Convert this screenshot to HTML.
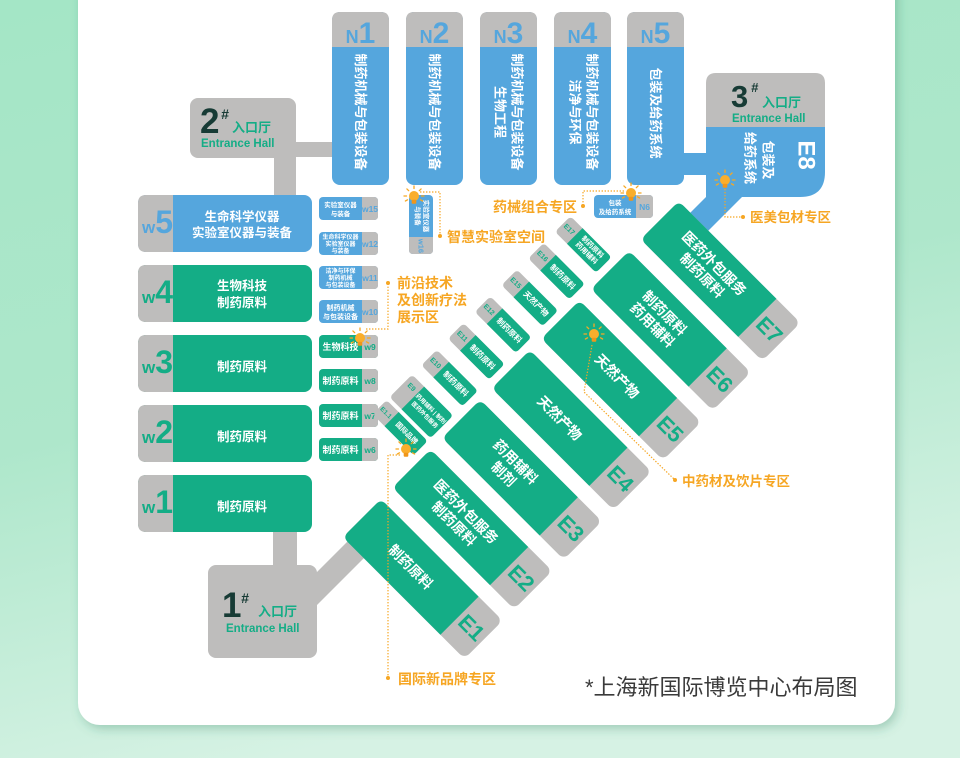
<!DOCTYPE html>
<html><head><meta charset="utf-8">
<style>
html,body{margin:0;padding:0;width:960px;height:758px;overflow:hidden;background:#b3e9d0;}
svg{display:block}
text{font-family:"Liberation Sans","Noto Sans CJK SC",sans-serif;font-weight:bold}
.w{fill:#fff}
.c{text-anchor:middle}
.m{dominant-baseline:central}
.o{fill:#f6a623}
.g{fill:#14ad86}
.b{fill:#55a6dd}
.d{fill:#173b35}
.lead{fill:none;stroke:#f6a623;stroke-width:1.2;stroke-dasharray:1.4 1.6}
</style></head><body>
<svg width="960" height="758" viewBox="0 0 960 758" xmlns="http://www.w3.org/2000/svg">
<defs>
<linearGradient id="bg" x1="0" y1="0" x2="0.3" y2="1">
 <stop offset="0" stop-color="#a4e6c6"/>
 <stop offset="0.55" stop-color="#aee7cb"/>
 <stop offset="1" stop-color="#d6f2e4"/>
</linearGradient>
<filter id="sh" x="-5%" y="-5%" width="110%" height="110%"><feDropShadow dx="3" dy="4" stdDeviation="5" flood-color="#2c7a5c" flood-opacity="0.3"/></filter>
<g id="bulb">
 <g stroke="#f7a823" stroke-width="1.3" stroke-linecap="round">
  <line x1="0" y1="-7.5" x2="0" y2="-10"/>
  <line x1="5.3" y1="-5.3" x2="7.1" y2="-7.1"/>
  <line x1="-5.3" y1="-5.3" x2="-7.1" y2="-7.1"/>
  <line x1="7.5" y1="0" x2="10" y2="0"/>
  <line x1="-7.5" y1="0" x2="-10" y2="0"/>
  <line x1="6.5" y1="3.8" x2="8.6" y2="5"/>
  <line x1="-6.5" y1="3.8" x2="-8.6" y2="5"/>
 </g>
 <circle cx="0" cy="0" r="5" fill="#f9ae2c"/>
 <rect x="-2.3" y="3.8" width="4.6" height="4" rx="1" fill="#f0961a"/>
</g>
</defs>
<rect width="960" height="758" fill="url(#bg)"/>
<rect x="78" y="-30" width="817" height="755" rx="22" fill="#fff" filter="url(#sh)"/>

<!-- 2# hall -->
<rect x="190" y="98" width="106" height="60" rx="8" fill="#bebdbc"/>
<rect x="290" y="142" width="46" height="15" fill="#bebdbc"/>
<rect x="274" y="150" width="22" height="48" fill="#bebdbc"/>
<text x="200" y="133" class="d" font-size="35">2</text>
<text x="221" y="119" class="d" font-size="14" font-style="italic">#</text>
<text x="232" y="132" class="g" font-size="13">入口厅</text>
<text x="201" y="147" class="g" font-size="11.5">Entrance Hall</text>

<!-- 1# hall -->
<rect x="273" y="525" width="24" height="45" fill="#bebdbc"/>
<polygon points="305,584 360,529 376,546 305,617" fill="#bebdbc"/>
<rect x="208" y="565" width="109" height="93" rx="8" fill="#bebdbc"/>
<text x="222" y="617" class="d" font-size="35">1</text>
<text x="241" y="603" class="d" font-size="14" font-style="italic">#</text>
<text x="258" y="616" class="g" font-size="13">入口厅</text>
<text x="226" y="632" class="g" font-size="11.5">Entrance Hall</text>

<!-- N blocks -->
<rect x="332" y="12" width="57" height="173" rx="8" fill="#55a6dd"/>
<rect x="406" y="12" width="57" height="173" rx="8" fill="#55a6dd"/>
<rect x="480" y="12" width="57" height="173" rx="8" fill="#55a6dd"/>
<rect x="554" y="12" width="57" height="173" rx="8" fill="#55a6dd"/>
<rect x="627" y="12" width="57" height="173" rx="8" fill="#55a6dd"/>
<g fill="#bebdbc">
<path d="M332,47 V20 Q332,12 340,12 H381 Q389,12 389,20 V47 Z"/>
<path d="M406,47 V20 Q406,12 414,12 H455 Q463,12 463,20 V47 Z"/>
<path d="M480,47 V20 Q480,12 488,12 H529 Q537,12 537,20 V47 Z"/>
<path d="M554,47 V20 Q554,12 562,12 H603 Q611,12 611,20 V47 Z"/>
<path d="M627,47 V20 Q627,12 635,12 H676 Q684,12 684,20 V47 Z"/>
</g>
<text x="360.5" y="43" class="b c"><tspan font-size="18">N</tspan><tspan font-size="30">1</tspan></text>
<text x="434.5" y="43" class="b c"><tspan font-size="18">N</tspan><tspan font-size="30">2</tspan></text>
<text x="508.5" y="43" class="b c"><tspan font-size="18">N</tspan><tspan font-size="30">3</tspan></text>
<text x="582.5" y="43" class="b c"><tspan font-size="18">N</tspan><tspan font-size="30">4</tspan></text>
<text x="655.5" y="43" class="b c"><tspan font-size="18">N</tspan><tspan font-size="30">5</tspan></text>
<g class="w" font-size="13">
<text transform="translate(360.5,112) rotate(90)" class="w c m">制药机械与包装设备</text>
<text transform="translate(434.5,112) rotate(90)" class="w c m">制药机械与包装设备</text>
<text transform="translate(517,112) rotate(90)" class="w c m">制药机械与包装设备</text>
<text transform="translate(500,112) rotate(90)" class="w c m">生物工程</text>
<text transform="translate(592,112) rotate(90)" class="w c m">制药机械与包装设备</text>
<text transform="translate(575,112) rotate(90)" class="w c m">洁净与环保</text>
<text transform="translate(655.5,113) rotate(90)" class="w c m">包装及给药系统</text>
</g>

<!-- 3# hall + E8 -->
<rect x="682" y="153" width="26" height="22" fill="#55a6dd"/>
<path d="M706,127 H825 V172 Q825,197 800,197 H742 L700,239 L676,227 L706,197 Z" fill="#55a6dd"/>
<path d="M706,127 V83 Q706,73 716,73 H815 Q825,73 825,83 V127 Z" fill="#bebdbc"/>
<text x="731" y="107" class="d" font-size="31">3</text>
<text x="751" y="92" class="d" font-size="13" font-style="italic">#</text>
<text x="762" y="107" class="g" font-size="13">入口厅</text>
<text x="732" y="122" class="g" font-size="11.5">Entrance Hall</text>
<text transform="translate(768,160) rotate(90)" class="w c m" font-size="13">包装及</text>
<text transform="translate(750,158) rotate(90)" class="w c m" font-size="13">给药系统</text>
<text transform="translate(806,155) rotate(90)" class="w c m" font-size="24">E8</text>

<!-- W blocks -->
<rect x="138" y="195" width="174" height="57" rx="8" fill="#55a6dd"/>
<rect x="138" y="265" width="174" height="57" rx="8" fill="#14ad86"/>
<rect x="138" y="335" width="174" height="57" rx="8" fill="#14ad86"/>
<rect x="138" y="405" width="174" height="57" rx="8" fill="#14ad86"/>
<rect x="138" y="475" width="174" height="57" rx="8" fill="#14ad86"/>
<g fill="#bebdbc">
<path d="M173,195 H146 Q138,195 138,203 V244 Q138,252 146,252 H173 Z"/>
<path d="M173,265 H146 Q138,265 138,273 V314 Q138,322 146,322 H173 Z"/>
<path d="M173,335 H146 Q138,335 138,343 V384 Q138,392 146,392 H173 Z"/>
<path d="M173,405 H146 Q138,405 138,413 V454 Q138,462 146,462 H173 Z"/>
<path d="M173,475 H146 Q138,475 138,483 V524 Q138,532 146,532 H173 Z"/>
</g>
<text x="142" y="233" class="b"><tspan font-size="17">w</tspan><tspan font-size="32">5</tspan></text>
<text x="142" y="303" class="g"><tspan font-size="17">w</tspan><tspan font-size="32">4</tspan></text>
<text x="142" y="373" class="g"><tspan font-size="17">w</tspan><tspan font-size="32">3</tspan></text>
<text x="142" y="443" class="g"><tspan font-size="17">w</tspan><tspan font-size="32">2</tspan></text>
<text x="142" y="513" class="g"><tspan font-size="17">w</tspan><tspan font-size="32">1</tspan></text>
<g class="w" font-size="12.5">
<text x="242" y="221" class="w c">生命科学仪器</text>
<text x="242" y="237" class="w c">实验室仪器与装备</text>
<text x="242" y="290" class="w c">生物科技</text>
<text x="242" y="307" class="w c">制药原料</text>
<text x="242" y="371" class="w c">制药原料</text>
<text x="242" y="441" class="w c">制药原料</text>
<text x="242" y="511" class="w c">制药原料</text>
</g>

<!-- small W boxes -->
<rect x="319" y="197" width="59" height="23" rx="4" fill="#55a6dd"/>
<rect x="319" y="232" width="59" height="23" rx="4" fill="#55a6dd"/>
<rect x="319" y="266" width="59" height="23" rx="4" fill="#55a6dd"/>
<rect x="319" y="300" width="59" height="23" rx="4" fill="#55a6dd"/>
<rect x="319" y="335" width="59" height="23" rx="4" fill="#14ad86"/>
<rect x="319" y="369" width="59" height="23" rx="4" fill="#14ad86"/>
<rect x="319" y="404" width="59" height="23" rx="4" fill="#14ad86"/>
<rect x="319" y="438" width="59" height="23" rx="4" fill="#14ad86"/>
<g fill="#bebdbc">
<path d="M362,197 H374 Q378,197 378,201 V216 Q378,220 374,220 H362 Z"/>
<path d="M362,232 H374 Q378,232 378,236 V251 Q378,255 374,255 H362 Z"/>
<path d="M362,266 H374 Q378,266 378,270 V285 Q378,289 374,289 H362 Z"/>
<path d="M362,300 H374 Q378,300 378,304 V319 Q378,323 374,323 H362 Z"/>
<path d="M362,335 H374 Q378,335 378,339 V354 Q378,358 374,358 H362 Z"/>
<path d="M362,369 H374 Q378,369 378,373 V388 Q378,392 374,392 H362 Z"/>
<path d="M362,404 H374 Q378,404 378,408 V423 Q378,427 374,427 H362 Z"/>
<path d="M362,438 H374 Q378,438 378,442 V457 Q378,461 374,461 H362 Z"/>
</g>
<g font-size="8.5">
<text x="370" y="212" class="b c">w15</text>
<text x="370" y="247" class="b c">w12</text>
<text x="370" y="281" class="b c">w11</text>
<text x="370" y="315" class="b c">w10</text>
<text x="370" y="350" class="g c">w9</text>
<text x="370" y="384" class="g c">w8</text>
<text x="370" y="419" class="g c">w7</text>
<text x="370" y="453" class="g c">w6</text>
</g>
<g class="w">
<text x="340.5" y="207" class="w c" font-size="6.5">实验室仪器</text>
<text x="340.5" y="216" class="w c" font-size="6.5">与装备</text>
<text x="340.5" y="239" class="w c" font-size="6">生命科学仪器</text>
<text x="340.5" y="246" class="w c" font-size="6">实验室仪器</text>
<text x="340.5" y="253" class="w c" font-size="6">与装备</text>
<text x="340.5" y="273" class="w c" font-size="6">洁净与环保</text>
<text x="340.5" y="280" class="w c" font-size="6">制药机械</text>
<text x="340.5" y="287" class="w c" font-size="6">与包装设备</text>
<text x="340.5" y="310" class="w c" font-size="7">制药机械</text>
<text x="340.5" y="319" class="w c" font-size="7">与包装设备</text>
<text x="340.5" y="350" class="w c" font-size="9">生物科技</text>
<text x="340.5" y="384" class="w c" font-size="9">制药原料</text>
<text x="340.5" y="419" class="w c" font-size="9">制药原料</text>
<text x="340.5" y="453" class="w c" font-size="9">制药原料</text>
</g>

<!-- W16 vertical -->
<rect x="409" y="195" width="24" height="59" rx="4" fill="#55a6dd"/>
<path d="M409,237 H433 V250 Q433,254 429,254 H413 Q409,254 409,250 Z" fill="#bebdbc"/>
<text transform="translate(425.5,216) rotate(90)" class="w c m" font-size="6.5">实验室仪器</text>
<text transform="translate(417,216) rotate(90)" class="w c m" font-size="6.5">与装备</text>
<text transform="translate(421,246) rotate(90)" class="b c m" font-size="7.5">w16</text>

<!-- N6 -->
<rect x="594" y="195" width="59" height="23" rx="4" fill="#55a6dd"/>
<path d="M636,195 H649 Q653,195 653,199 V214 Q653,218 649,218 H636 Z" fill="#bebdbc"/>
<text x="615" y="205" class="w c" font-size="6.5">包装</text>
<text x="615" y="214" class="w c" font-size="6.5">及给药系统</text>
<text x="644.5" y="210" class="b c" font-size="8.5">N6</text>

<!-- E blocks (rotated) -->
<g transform="translate(381,499) rotate(45)">
 <g>
  <rect x="0" y="0" width="172" height="54" rx="7" fill="#bebdbc"/>
  <path d="M138,0 H7 Q0,0 0,7 V47 Q0,54 7,54 H138 Z" fill="#14ad86"/>
  <text x="69" y="27" class="w c m" font-size="14">制药原料</text>
  <text x="155" y="27" class="g c m" font-size="22">E1</text>
 </g>
 <g transform="translate(0,-70.2)">
  <rect x="0" y="0" width="172" height="54" rx="7" fill="#bebdbc"/>
  <path d="M138,0 H7 Q0,0 0,7 V47 Q0,54 7,54 H138 Z" fill="#14ad86"/>
  <text x="69" y="19" class="w c m" font-size="14">医药外包服务</text>
  <text x="69" y="36" class="w c m" font-size="14">制药原料</text>
  <text x="155" y="27" class="g c m" font-size="22">E2</text>
 </g>
 <g transform="translate(0,-140.4)">
  <rect x="0" y="0" width="172" height="54" rx="7" fill="#bebdbc"/>
  <path d="M138,0 H7 Q0,0 0,7 V47 Q0,54 7,54 H138 Z" fill="#14ad86"/>
  <text x="69" y="19" class="w c m" font-size="14">药用辅料</text>
  <text x="69" y="36" class="w c m" font-size="14">制剂</text>
  <text x="155" y="27" class="g c m" font-size="22">E3</text>
 </g>
 <g transform="translate(0,-210.6)">
  <rect x="0" y="0" width="172" height="54" rx="7" fill="#bebdbc"/>
  <path d="M138,0 H7 Q0,0 0,7 V47 Q0,54 7,54 H138 Z" fill="#14ad86"/>
  <text x="69" y="27" class="w c m" font-size="14">天然产物</text>
  <text x="155" y="27" class="g c m" font-size="22">E4</text>
 </g>
 <g transform="translate(0,-280.8)">
  <rect x="0" y="0" width="172" height="54" rx="7" fill="#bebdbc"/>
  <path d="M138,0 H7 Q0,0 0,7 V47 Q0,54 7,54 H138 Z" fill="#14ad86"/>
  <text x="80" y="27" class="w c m" font-size="14">天然产物</text>
  <text x="155" y="27" class="g c m" font-size="22">E5</text>
 </g>
 <g transform="translate(0,-351)">
  <rect x="0" y="0" width="172" height="54" rx="7" fill="#bebdbc"/>
  <path d="M138,0 H7 Q0,0 0,7 V47 Q0,54 7,54 H138 Z" fill="#14ad86"/>
  <text x="69" y="19" class="w c m" font-size="14">制药原料</text>
  <text x="69" y="36" class="w c m" font-size="14">药用辅料</text>
  <text x="155" y="27" class="g c m" font-size="22">E6</text>
 </g>
 <g transform="translate(0,-421.2)">
  <rect x="0" y="0" width="172" height="54" rx="7" fill="#bebdbc"/>
  <path d="M138,0 H7 Q0,0 0,7 V47 Q0,54 7,54 H138 Z" fill="#14ad86"/>
  <text x="69" y="19" class="w c m" font-size="14">医药外包服务</text>
  <text x="69" y="36" class="w c m" font-size="14">制药原料</text>
  <text x="155" y="27" class="g c m" font-size="22">E7</text>
 </g>

 <!-- small e blocks -->
 <g transform="translate(0,-323)">
  <rect x="-66" y="-11" width="58" height="22" rx="4" fill="#bebdbc"/>
  <path d="M-49,-11 H-12 Q-8,-11 -8,-7 V7 Q-8,11 -12,11 H-49 Z" fill="#14ad86"/>
  <text x="-57.5" y="0" class="g c m" font-size="7">E17</text>
  <text x="-28.5" y="-4" class="w c m" font-size="7">制药原料</text>
  <text x="-28.5" y="4.5" class="w c m" font-size="7">药用辅料</text>
 </g>
 <g transform="translate(0,-285.2)">
  <rect x="-66" y="-11" width="58" height="22" rx="4" fill="#bebdbc"/>
  <path d="M-49,-11 H-12 Q-8,-11 -8,-7 V7 Q-8,11 -12,11 H-49 Z" fill="#14ad86"/>
  <text x="-57.5" y="0" class="g c m" font-size="7">E16</text>
  <text x="-28.5" y="0" class="w c m" font-size="8">制药原料</text>
 </g>
 <g transform="translate(0,-247.4)">
  <rect x="-66" y="-11" width="58" height="22" rx="4" fill="#bebdbc"/>
  <path d="M-49,-11 H-12 Q-8,-11 -8,-7 V7 Q-8,11 -12,11 H-49 Z" fill="#14ad86"/>
  <text x="-57.5" y="0" class="g c m" font-size="7">E15</text>
  <text x="-28.5" y="0" class="w c m" font-size="8">天然产物</text>
 </g>
 <g transform="translate(0,-209.6)">
  <rect x="-66" y="-11" width="58" height="22" rx="4" fill="#bebdbc"/>
  <path d="M-49,-11 H-12 Q-8,-11 -8,-7 V7 Q-8,11 -12,11 H-49 Z" fill="#14ad86"/>
  <text x="-57.5" y="0" class="g c m" font-size="7">E12</text>
  <text x="-28.5" y="0" class="w c m" font-size="8">制药原料</text>
 </g>
 <g transform="translate(0,-171.8)">
  <rect x="-66" y="-11" width="58" height="22" rx="4" fill="#bebdbc"/>
  <path d="M-49,-11 H-12 Q-8,-11 -8,-7 V7 Q-8,11 -12,11 H-49 Z" fill="#14ad86"/>
  <text x="-57.5" y="0" class="g c m" font-size="7">E11</text>
  <text x="-28.5" y="0" class="w c m" font-size="8">制药原料</text>
 </g>
 <g transform="translate(0,-134)">
  <rect x="-66" y="-11" width="58" height="22" rx="4" fill="#bebdbc"/>
  <path d="M-49,-11 H-12 Q-8,-11 -8,-7 V7 Q-8,11 -12,11 H-49 Z" fill="#14ad86"/>
  <text x="-57.5" y="0" class="g c m" font-size="7">E10</text>
  <text x="-28.5" y="0" class="w c m" font-size="8">制药原料</text>
 </g>
 <g transform="translate(0,-94)">
  <rect x="-66" y="-16" width="58" height="32" rx="4" fill="#bebdbc"/>
  <path d="M-49,-16 H-12 Q-8,-16 -8,-12 V12 Q-8,16 -12,16 H-49 Z" fill="#14ad86"/>
  <text x="-57.5" y="-6" class="g c m" font-size="7">E9</text>
  <text x="-28.5" y="-4" class="w c m" font-size="5.8">药用辅料 | 制剂</text>
  <text x="-28.5" y="4.5" class="w c m" font-size="5.8">医药外包服务</text>
 </g>
 <g transform="translate(0,-64)">
  <rect x="-66" y="-10" width="58" height="20" rx="4" fill="#bebdbc"/>
  <path d="M-49,-10 H-12 Q-8,-10 -8,-6 V6 Q-8,10 -12,10 H-49 Z" fill="#14ad86"/>
  <text x="-57.5" y="0" class="g c m" font-size="6.5">E1.1</text>
  <text x="-28.5" y="0" class="w c m" font-size="7">国际品牌</text>
 </g>
</g>

<!-- leader lines -->
<path class="lead" d="M420,192 H440 V236"/>
<path class="lead" d="M624,191 H583 V206"/>
<path class="lead" d="M725,189 V217 H743"/>
<path class="lead" d="M366,329 H388 V283"/>
<path class="lead" d="M400,455 H388 V678"/>
<path class="lead" d="M592,345 L584,392 L675,480"/>
<g fill="#f6a623">
<circle cx="440" cy="236" r="2"/>
<circle cx="583" cy="206" r="2"/>
<circle cx="743" cy="217" r="2"/>
<circle cx="388" cy="283" r="2"/>
<circle cx="388" cy="678" r="2"/>
<circle cx="675" cy="480" r="2"/>
</g>
<use href="#bulb" x="414" y="196"/>
<use href="#bulb" x="631" y="193"/>
<use href="#bulb" x="725" y="180"/>
<use href="#bulb" x="360" y="338"/>
<use href="#bulb" x="406" y="449"/>
<use href="#bulb" x="594" y="334"/>

<!-- orange labels -->
<g font-size="14">
<text x="447" y="242" class="o">智慧实验室空间</text>
<text x="493" y="212" class="o">药械组合专区</text>
<text x="750" y="222" class="o" font-size="13.5">医美包材专区</text>
<text x="397" y="288" class="o">前沿技术</text>
<text x="397" y="305" class="o">及创新疗法</text>
<text x="397" y="322" class="o">展示区</text>
<text x="682" y="486" class="o" font-size="13.5">中药材及饮片专区</text>
<text x="398" y="684" class="o">国际新品牌专区</text>
</g>

<text x="585" y="695" font-size="22" style="font-weight:normal" fill="#3a3a3a">*上海新国际博览中心布局图</text>
</svg>
</body></html>
